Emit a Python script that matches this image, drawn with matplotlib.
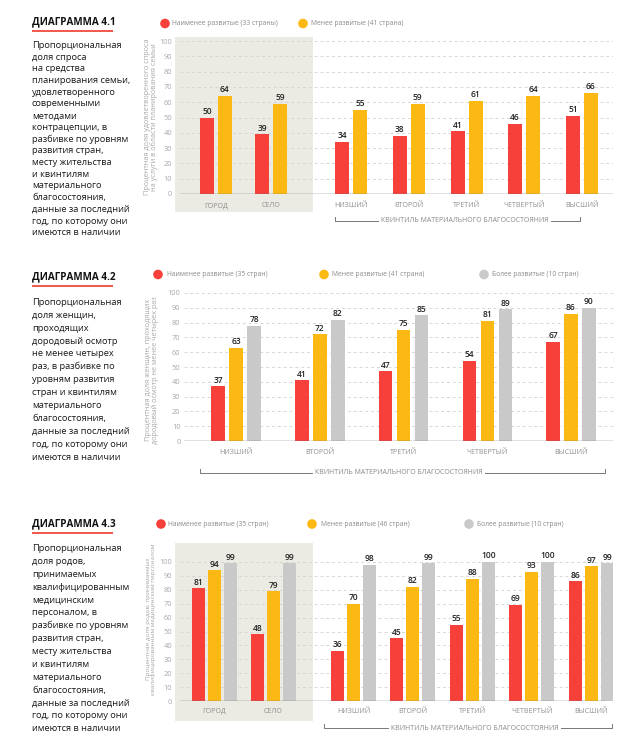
import numpy as np
import matplotlib.pyplot as plt
from matplotlib.patches import Rectangle, Circle

plt.rcParams['font.family'] = ['Open Sans', 'DejaVu Sans']

W, H = 627, 742

RED = '#f8403a'
YELLOW = '#fdb913'
GRAY = '#c9c9c9'
BG = '#ebeae3'
TXT = '#222222'
LIGHT = '#a8a8a8'

# categories
place_cats = ['ГОРОД', 'СЕЛО']
quint_cats = ['НИЗШИЙ', 'ВТОРОЙ', 'ТРЕТИЙ', 'ЧЕТВЕРТЫЙ', 'ВЫСШИЙ']
quint_title = 'КВИНТИЛЬ МАТЕРИАЛЬНОГО БЛАГОСОСТОЯНИЯ'

# 4.1 (город, село, 5 квинтилей)
d41_least = [50, 39, 34, 38, 41, 46, 51]
d41_less = [64, 59, 55, 59, 61, 64, 66]
# 4.2 (5 квинтилей)
d42_least = [37, 41, 47, 54, 67]
d42_less = [63, 72, 75, 81, 86]
d42_more = [78, 82, 85, 89, 90]
# 4.3 (город, село, 5 квинтилей)
d43_least = [81, 48, 36, 45, 55, 69, 86]
d43_less = [94, 79, 70, 82, 88, 93, 97]
d43_more = [99, 99, 98, 99, 100, 100, 99]

leg41 = ['Наименее развитые (33 страны)', 'Менее развитые (41 страна)']
leg42 = ['Наименее развитые (35 стран)', 'Менее развитые (41 страна)',
         'Более развитые (10 стран)']
leg43 = ['Наименее развитые (35 стран)', 'Менее развитые (46 стран)',
         'Более развитые (10 стран)']

ylab41 = 'Процентная доля удовлетворенного спроса\nна услуги в области планирования семьи'
ylab42 = 'Процентная доля женщин, проходящих\nдородовый осмотр не менее четырех раз'
ylab43 = 'Процентная доля родов, принимаемых\nквалифицированным медицинским персоналом'

desc41 = ['Пропорциональная', 'доля спроса', 'на средства', 'планирования семьи,',
          'удовлетворенного', 'современными', 'методами', 'контрацепции, в',
          'разбивке по уровням', 'развития стран,', 'месту жительства',
          'и квинтилям', 'материального', 'благосостояния,',
          'данные за последний', 'год, по которому они', 'имеются в наличии']
desc42 = ['Пропорциональная', 'доля женщин,', 'проходящих', 'дородовый осмотр',
          'не менее четырех', 'раз, в разбивке по', 'уровням развития',
          'стран и квинтилям', 'материального', 'благосостояния,',
          'данные за последний', 'год, по которому они', 'имеются в наличии']
desc43 = ['Пропорциональная', 'доля родов,', 'принимаемых', 'квалифицированным',
          'медицинским', 'персоналом, в', 'разбивке по уровням', 'развития стран,',
          'месту жительства', 'и квинтилям', 'материального', 'благосостояния,',
          'данные за последний', 'год, по которому они', 'имеются в наличии']

fig = plt.figure(figsize=(W / 100, H / 100), dpi=100)
fig.patch.set_facecolor('white')

# overlay in pixel coords for titles, legends, brackets, backgrounds
ov = fig.add_axes([0, 0, 1, 1], zorder=0)
ov.set_xlim(0, W)
ov.set_ylim(H, 0)
ov.axis('off')


def header(title, y_title, desc, y_desc, step):
    ov.text(32, y_title, title, fontsize=7.1, fontweight='bold', color='#111111',
            ha='left', va='center')
    ov.plot([32, 113], [y_title + 8.5, y_title + 8.5], color='#f04a3e', lw=1.3,
            solid_capstyle='butt')
    for i, line in enumerate(desc):
        ov.text(32, y_desc + i * step, line, fontsize=6.7, color='#1a1a1a',
                ha='left', va='center')


def legend(items, colors, xs, y):
    for (cx, tx), lab, col in zip(xs, items, colors):
        ov.add_patch(Circle((cx, y), 4.8, color=col, lw=0))
        ov.text(tx, y, lab, fontsize=4.9, color='#8a8a8a', ha='left', va='center')


def bracket(x0, x1, xc, y, text):
    ov.plot([x0, x0, x1, x1], [y - 4, y, y, y - 4], color='#777777', lw=0.7)
    ov.text(xc, y, text, fontsize=5.0, color='#8a8a8a', ha='center', va='center',
            bbox=dict(boxstyle='square,pad=0.3', fc='white', ec='none'))


def chart(xl, xr, y0, y100, centers, series, colors, width, pitch, cats,
          base_end, ylab, ylab_xy, ylab_size, tick_pad, cat_pad):
    ax = fig.add_axes([xl / W, 1 - y0 / H, (xr - xl) / W, (y0 - y100) / H], zorder=1)
    ax.set_facecolor('none')
    ax.set_xlim(xl, xr)
    ax.set_ylim(0, 100)
    for s in ax.spines.values():
        s.set_visible(False)
    for v in range(10, 101, 10):
        ax.axhline(v, color='#d6d6d6', lw=0.7, ls=(0, (3, 3)), zorder=1)
    n = len(series)
    for k, (vals, col) in enumerate(zip(series, colors)):
        xs = np.asarray(centers) + (k - (n - 1) / 2) * pitch
        ax.bar(xs, vals, width, color=col, zorder=3, lw=0)
        for x, v in zip(xs, vals):
            ax.annotate(str(v), (x, v), xytext=(0, 1.2), textcoords='offset points',
                        ha='center', va='bottom', fontsize=6.0, color=TXT,
                        fontweight='semibold')
    ax.axhline(0, xmin=0, xmax=(base_end - xl) / (xr - xl), color='#6e6e6e',
               lw=1.0, zorder=4)
    ax.set_yticks(range(0, 101, 10))
    ax.tick_params(axis='y', length=0, pad=tick_pad, labelsize=5.4, labelcolor=LIGHT)
    ax.set_xticks(centers)
    ax.set_xticklabels(cats)
    ax.tick_params(axis='x', length=0, pad=cat_pad, labelsize=5.1, labelcolor='#8f8f8f')
    ov.text(ylab_xy[0], ylab_xy[1], ylab, rotation=90, ha='center', va='center',
            multialignment='center', fontsize=ylab_size, color=LIGHT, linespacing=1.05)
    return ax


# ---------- 4.1 ----------
ov.add_patch(Rectangle((175, 37), 138, 175, color=BG, lw=0, zorder=0))
header('ДИАГРАММА 4.1', 22, desc41, 45.5, 11.7)
legend(leg41, [RED, YELLOW], [(165, 172), (303, 311)], 23.5)
c41 = np.concatenate([216 + 55 * np.arange(2), 351 + 57.75 * np.arange(5)])
chart(180, 613, 194, 41, c41, [d41_least, d41_less], [RED, YELLOW], 14, 18,
      place_cats + quint_cats, 613, ylab41, (151, 117), 5.2, 5.5, 6)
bracket(335, 580, 465, 221, quint_title)

# ---------- 4.2 ----------
header('ДИАГРАММА 4.2', 277, desc42, 302.3, 12.9)
legend(leg42, [RED, YELLOW, GRAY], [(158, 167), (324, 332), (484, 492)], 274.5)
c42 = 236 + 83.75 * np.arange(5)
chart(184, 613, 441, 293, c42, [d42_least, d42_less, d42_more],
      [RED, YELLOW, GRAY], 13.5, 18, quint_cats, 613, ylab42, (152, 370), 5.2, 2.5, 6)
bracket(200, 605, 399, 473, quint_title)

# ---------- 4.3 ----------
ov.add_patch(Rectangle((175, 543), 138, 178, color=BG, lw=0, zorder=0))
header('ДИАГРАММА 4.3', 524, desc43, 548.3, 12.9)
legend(leg43, [RED, YELLOW, GRAY], [(161, 168), (312, 321), (469, 477)], 524)
c43 = np.concatenate([214.5 + 59 * np.arange(2), 353.5 + 59.4 * np.arange(5)])
chart(180, 613, 701, 562, c43, [d43_least, d43_less, d43_more],
      [RED, YELLOW, GRAY], 13, 16, place_cats + quint_cats, 605, ylab43, (151, 619),
      4.6, 5.5, 5)
bracket(324, 612, 475, 728, quint_title)

fig.savefig('out.png', dpi=100)
